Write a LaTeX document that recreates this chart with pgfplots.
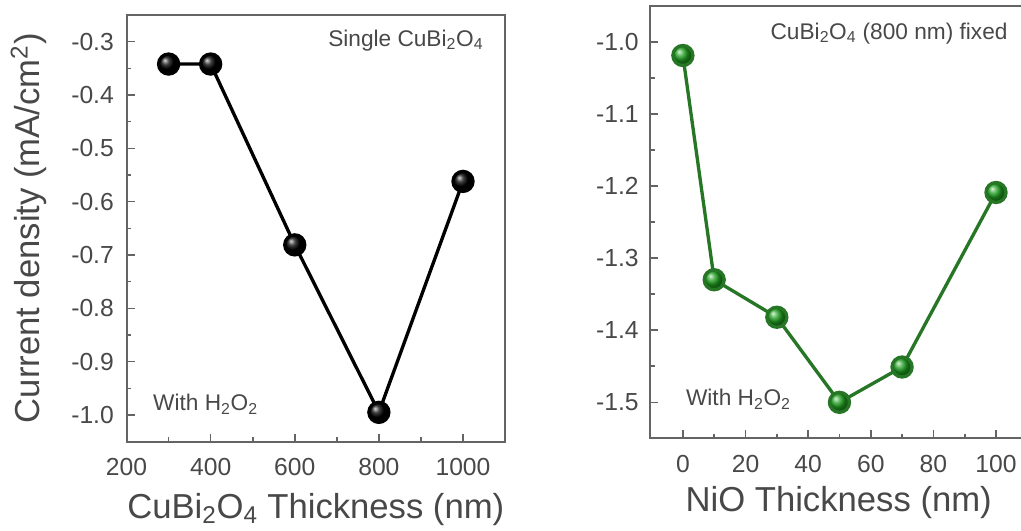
\documentclass[border=0pt]{standalone}
\usepackage{pgfplots}
\pgfplotsset{compat=1.18}
\usepackage{fontspec}
\setmainfont{Liberation Sans}

\definecolor{txtgray}{RGB}{72,72,72}
\definecolor{framegray}{RGB}{100,100,100}
\definecolor{linegreen}{RGB}{38,118,38}
\definecolor{ballgreen}{RGB}{30,160,30}

\tikzset{note/.style={font=\fontsize{17}{19}\selectfont, text=txtgray}}

\pgfplotsset{
  panel/.style={
    scale only axis,
    anchor=south west,
    axis line style={framegray, line width=1.5pt},
    tick style={framegray, line width=1.2pt},
    major tick length=6pt,
    minor tick length=3.5pt,
    tick align=inside,
    xtick pos=bottom,
    ytick pos=left,
    minor x tick num=1,
    minor y tick num=1,
    tick label style={font=\fontsize{18.5}{20}\selectfont, text=txtgray},
    xticklabel style={yshift=-9pt},
    /pgf/number format/assume math mode=true,
    /pgf/number format/set thousands separator={},
    label style={font=\fontsize{26}{28}\selectfont, text=txtgray},
    clip=false,
  },
}

\begin{document}
\begin{tikzpicture}
\path[use as bounding box] (0,0) rectangle (765.75pt,398.25pt);

% Single CuBi2O4 layer: photocurrent versus thickness
\begin{axis}[panel,
  at={(94.9pt,67pt)}, width=283.9pt, height=320pt,
  xmin=200, xmax=1100, ymin=-1.05, ymax=-0.25,
  xtick={200,400,600,800,1000},
  ytick={-1.0,-0.9,-0.8,-0.7,-0.6,-0.5,-0.4,-0.3},
  yticklabel style={xshift=-6pt, /pgf/number format/.cd, fixed, fixed zerofill, precision=1},
  xlabel={CuBi\textsubscript{2}O\textsubscript{4} Thickness (nm)},
  ylabel={Current density (mA/cm\textsuperscript{2})},
  xlabel style={at={(axis description cs:0.5,-0.179)}, anchor=base},
  ylabel style={at={(axis description cs:-0.258,0.5)}, anchor=center},
]
\addplot[black, line width=2.5pt, mark=ball, mark size=7.5pt,
  mark options={ball color=black}]
  coordinates {(300,-0.342) (400,-0.342) (600,-0.681) (800,-0.995) (1000,-0.562)};
\node[note, anchor=base east] at (rel axis cs:0.955,0.927)
  {Single CuBi\textsubscript{2}O\textsubscript{4}};
\node[note, anchor=base west] at (rel axis cs:0.058,0.072)
  {With H\textsubscript{2}O\textsubscript{2}};
\end{axis}

% NiO on 800 nm CuBi2O4: photocurrent versus NiO thickness
\begin{axis}[panel,
  at={(487.5pt,69.45pt)}, width=283pt, height=324.5pt,
  xmin=-10.5, xmax=110, ymin=-1.55, ymax=-0.95,
  xtick={0,20,40,60,80,100},
  ytick={-1.5,-1.4,-1.3,-1.2,-1.1,-1.0},
  yticklabel style={xshift=-5pt, /pgf/number format/.cd, fixed, fixed zerofill, precision=1},
  xlabel={NiO Thickness (nm)},
  xlabel style={at={(axis description cs:0.5,-0.170)}, anchor=base},
]
\addplot[linegreen, line width=2.5pt, mark=ball, mark size=7.5pt,
  mark options={ball color=ballgreen}]
  coordinates {(0,-1.019) (10,-1.330) (30,-1.382) (50,-1.500) (70,-1.451) (100,-1.209)};
\node[note, anchor=base east] at (rel axis cs:0.96,0.923)
  {CuBi\textsubscript{2}O\textsubscript{4} (800 nm) fixed};
\node[note, anchor=base west] at (rel axis cs:0.083,0.075)
  {With H\textsubscript{2}O\textsubscript{2}};
\end{axis}
\end{tikzpicture}
\end{document}
